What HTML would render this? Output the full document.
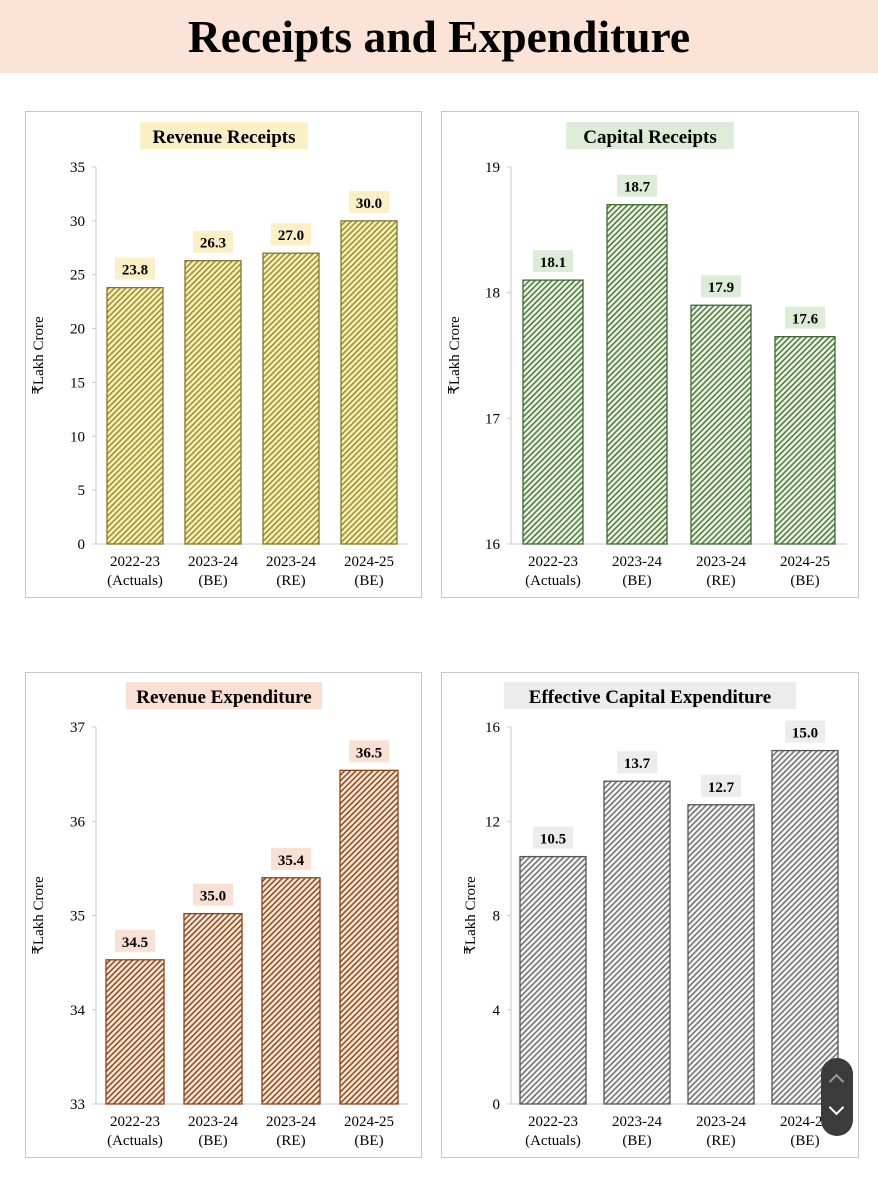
<!DOCTYPE html>
<html><head><meta charset="utf-8">
<style>
body{margin:0;width:878px;height:1200px;background:#fff;font-family:"Liberation Serif",serif;position:relative;overflow:hidden}
#hdr{position:absolute;left:0;top:0;width:878px;height:73px;background:#fbe3d6;text-align:center;font-weight:bold;font-size:45.5px;line-height:73px;color:#000}
.panel{position:absolute;border:1px solid #c8c8c8;box-sizing:border-box}
svg{position:absolute;left:0;top:0}
#scroll{position:absolute;left:821px;top:1058px;width:32px;height:78px;border-radius:16px;background:#3b3b3b}
</style></head><body>
<div id="hdr">Receipts and Expenditure</div>
<div class="panel" style="left:25px;top:111px;width:397px;height:487px"></div>
<div class="panel" style="left:441px;top:111px;width:418px;height:487px"></div>
<div class="panel" style="left:25px;top:672px;width:397px;height:486px"></div>
<div class="panel" style="left:441px;top:672px;width:418px;height:486px"></div>
<svg id="svg" width="878" height="1200" xmlns="http://www.w3.org/2000/svg">
<defs>
<pattern id="p0" width="4" height="4" patternUnits="userSpaceOnUse" patternTransform="rotate(45)"><rect width="4" height="4" fill="#f6efb2"/><rect width="1.5" height="4" fill="#9a8c3a"/></pattern>
<pattern id="p1" width="4" height="4" patternUnits="userSpaceOnUse" patternTransform="rotate(45)"><rect width="4" height="4" fill="#eaf3e2"/><rect width="1.5" height="4" fill="#4c7a3c"/></pattern>
<pattern id="p2" width="4" height="4" patternUnits="userSpaceOnUse" patternTransform="rotate(45)"><rect width="4" height="4" fill="#f7e4d6"/><rect width="1.5" height="4" fill="#8f4a1c"/></pattern>
<pattern id="p3" width="4" height="4" patternUnits="userSpaceOnUse" patternTransform="rotate(45)"><rect width="4" height="4" fill="#f3f3f3"/><rect width="1.5" height="4" fill="#707070"/></pattern>
</defs>
</svg>
<div id="scroll">
<div style="position:absolute;left:10px;top:18px;width:9px;height:9px;border-left:2px solid #999;border-top:2px solid #999;transform:rotate(45deg)"></div>
<div style="position:absolute;left:10px;top:44px;width:9px;height:9px;border-right:2px solid #fff;border-bottom:2px solid #fff;transform:rotate(45deg)"></div>
</div>
<script>
const categories=[["2022-23","(Actuals)"],["2023-24","(BE)"],["2023-24","(RE)"],["2024-25","(BE)"]];
const revReceipts=[23.8,26.3,27.0,30.0];
const capReceipts=[18.1,18.7,17.9,17.65];
const revExpenditure=[34.53,35.02,35.4,36.54];
const capExpenditure=[10.5,13.7,12.7,15.0];
const revReceiptsTicks=[0,5,10,15,20,25,30,35];
const capReceiptsTicks=[16,17,18,19];
const revExpenditureTicks=[33,34,35,36,37];
const capExpenditureTicks=[0,4,8,12,16];
const titles=["Revenue Receipts","Capital Receipts","Revenue Expenditure","Effective Capital Expenditure"];
const NS="http://www.w3.org/2000/svg";
const svg=document.getElementById('svg');
function mk(tag,attrs,txt){const e=document.createElementNS(NS,tag);for(const k in attrs)e.setAttribute(k,attrs[k]);if(txt!==undefined)e.textContent=txt;svg.appendChild(e);return e;}
const cfg=[
 {vals:revReceipts,ticks:revReceiptsTicks,x0:96,x1:408,y0:544,y1:167,band:78,bw:56,pat:"p0",stroke:"#857528",lab:"#fcefc6",tx:224,ty:136,dec:1,lx:43},
 {vals:capReceipts,ticks:capReceiptsTicks,x0:511,x1:847,y0:544,y1:167,band:84,bw:60,pat:"p1",stroke:"#3c6a2e",lab:"#dcecd6",tx:650,ty:136,dec:1,lx:459},
 {vals:revExpenditure,ticks:revExpenditureTicks,x0:96,x1:408,y0:1104,y1:727,band:78,bw:58,pat:"p2",stroke:"#8a4418",lab:"#fae0d2",tx:224,ty:696,dec:1,lx:43},
 {vals:capExpenditure,ticks:capExpenditureTicks,x0:511,x1:847,y0:1104,y1:727,band:84,bw:66,pat:"p3",stroke:"#555",lab:"#ececec",tx:650,ty:696,dec:1,lx:475}
];
const names=["revenue-receipts","capital-receipts","revenue-expenditure","capital-expenditure"];
cfg.forEach((c,ci)=>{
 const tmin=c.ticks[0],tmax=c.ticks[c.ticks.length-1];
 const y=v=>c.y0-(v-tmin)/(tmax-tmin)*(c.y0-c.y1);
 const x=i=>c.x0+c.band*(i+0.5);
 const tw=titles[ci].length*9.6+14;
 const tb=mk('rect',{x:c.tx-tw/2,y:c.ty-14,width:tw,height:27,fill:c.lab});
 
 
 const t=mk('text',{x:c.tx,y:c.ty+7,'text-anchor':'middle','font-size':'19','font-weight':'bold','font-family':'Liberation Serif, serif'},titles[ci]);
 
 
 const ya=mk('line',{x1:c.x0,y1:c.y1,x2:c.x0,y2:c.y0,stroke:'#c8c8c8','stroke-width':1});
 
 
 const xa=mk('line',{x1:c.x0,y1:c.y0,x2:c.x1,y2:c.y0,stroke:'#c8c8c8','stroke-width':1});
 
 
 c.ticks.forEach(tv=>{
  const tl=mk('line',{x1:c.x0-4,y1:y(tv),x2:c.x0,y2:y(tv),stroke:'#c8c8c8'});
  
  
  const tt=mk('text',{x:c.x0-11,y:y(tv)+5,'text-anchor':'end','font-size':'15'},String(tv));
  
  
 });
 const yt=mk('text',{x:c.lx,y:(c.y0+c.y1)/2,'text-anchor':'middle','font-size':'15',transform:`rotate(-90 ${c.lx} ${(c.y0+c.y1)/2})`},'₹Lakh Crore');
 
 
 c.vals.forEach((v,i)=>{
  const b=mk('rect',{x:x(i)-c.bw/2,y:y(v),width:c.bw,height:c.y0-y(v),fill:`url(#${c.pat})`,stroke:c.stroke,'stroke-width':1.3});
  
  
  const lb=mk('rect',{x:x(i)-20,y:y(v)-30,width:40,height:22,fill:c.lab});
  
  
  const lt=mk('text',{x:x(i),y:y(v)-13,'text-anchor':'middle','font-size':'15','font-weight':'bold'},v.toFixed(c.dec));
  
  
  categories[i].forEach((s,k)=>{
   const ct=mk('text',{x:x(i),y:c.y0+22+k*19,'text-anchor':'middle','font-size':'15'},s);
   
   
  });
 });
});
</script>
</body></html>
